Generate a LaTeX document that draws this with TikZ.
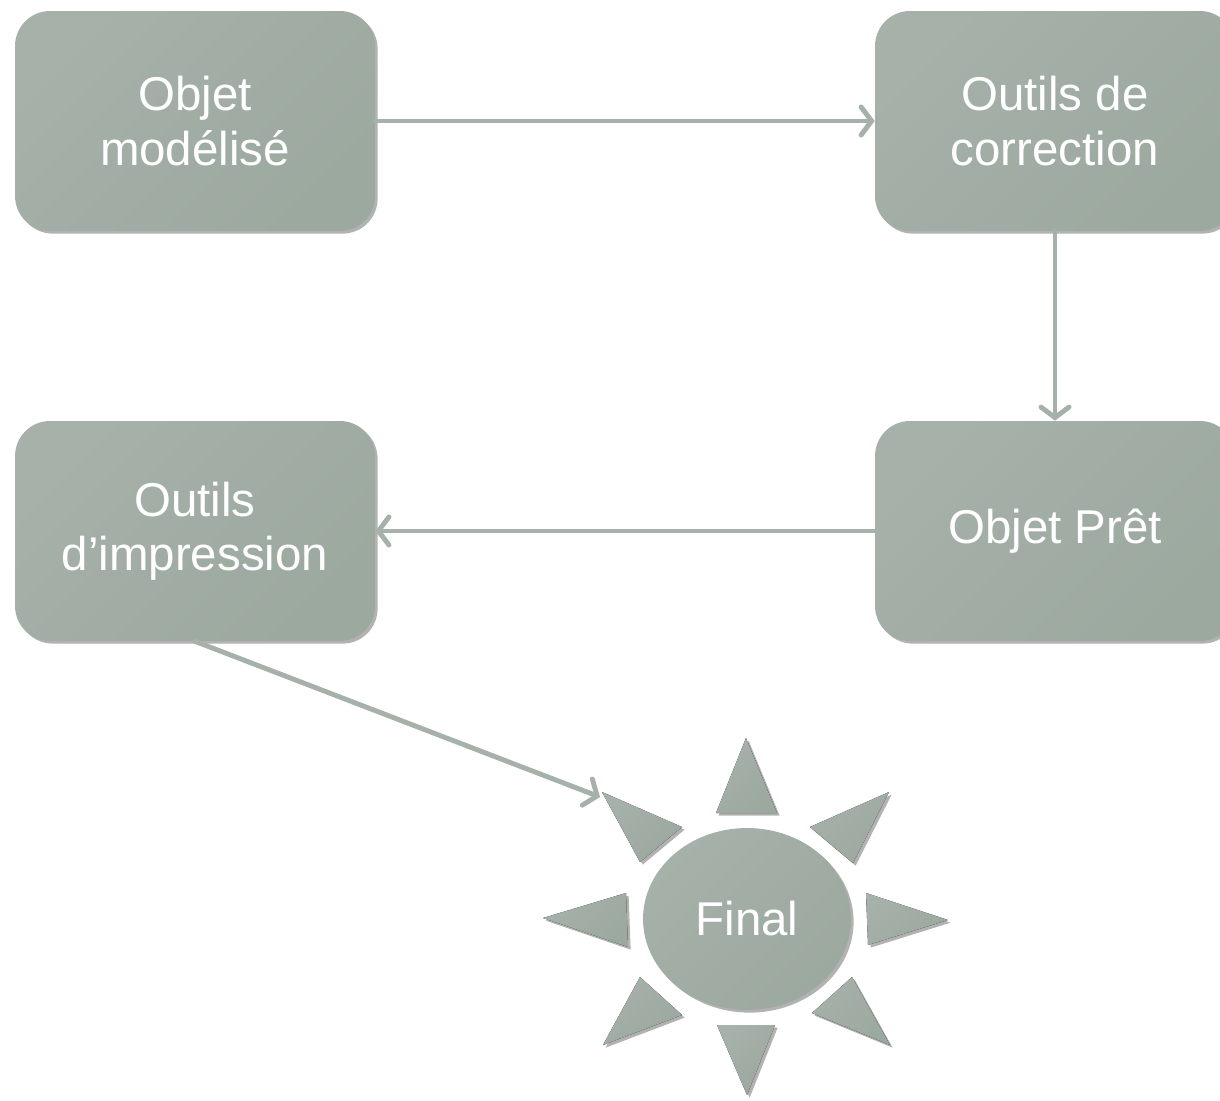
\documentclass[tikz,border=0pt]{standalone}
\usepackage{fontspec}
\setmainfont{Liberation Sans}
\usepackage{xcolor}
\usetikzlibrary{arrows.meta, shapes.geometric, shadows}

\definecolor{sauge}{HTML}{A6B1A9}
\definecolor{saugefonce}{HTML}{9CA99F}

\tikzset{
	ombre/.style = {drop shadow = {shadow xshift = 1.5pt, shadow yshift = -1.5pt, opacity = 0.3, fill = black}},
	teinte/.style = {left color = sauge, middle color = sauge, right color = saugefonce, shading angle = 45},
	boite/.style = {rectangle, rounded corners = 0.7cm, teinte, ombre, minimum width = 7.2cm, minimum height = 4.4cm, align = center, text = white, font = \fontsize{27}{31}\selectfont},
	fleche/.style = {draw = sauge, line width = 2.8pt, line cap = round, -{Straight Barb[length = 6pt, width = 16pt, line cap = round]}},
	rayon/.style = {teinte, ombre}
}

\begin{document}
\begin{tikzpicture}[x = 0.02cm, y = -0.02cm]
		%page frame
		\useasboundingbox (0,0) rectangle (1220,1101);
		
		%boxes
		\node [boite] (obj) at (195,121) {Objet\\modélisé};
		\node [boite] (corr) at (1055,121) {Outils de\\correction};
		\node [boite] (pret) at (1055,531) {Objet Prêt};
		\node [boite] (impr) at (195,531) {Outils\\d’impression};
		
		%sun rays
		\fill [rayon] (746,738) -- (777,813) -- (716,813) -- cycle;
		\fill [rayon] (889,792) -- (853,863) -- (810,827) -- cycle;
		\fill [rayon] (948,920) -- (868,945) -- (866,893) -- cycle;
		\fill [rayon] (890,1045) -- (812,1013) -- (852,977) -- cycle;
		\fill [rayon] (747,1095) -- (717,1025) -- (775,1025) -- cycle;
		\fill [rayon] (603,1045) -- (640,977) -- (682,1015) -- cycle;
		\fill [rayon] (543,918) -- (626,893) -- (628,947) -- cycle;
		\fill [rayon] (602,792) -- (682,827) -- (640,862) -- cycle;
		\coordinate (pointe) at (600,797);
		
		%sun centre
		\node [ellipse, teinte, ombre, minimum width = 4.16cm, minimum height = 3.64cm, inner sep = 0pt, text = white, font = \fontsize{27}{31}\selectfont] (final) at (747,919) {Final};
		
		%arrows
		\draw [fleche] (obj.east) -- (corr.west);
		\draw [fleche] (corr.south) -- (pret.north);
		\draw [fleche] (pret.west) -- (impr.east);
		\draw [fleche] (impr.south) -- (pointe);
	\end{tikzpicture}
\end{document}
